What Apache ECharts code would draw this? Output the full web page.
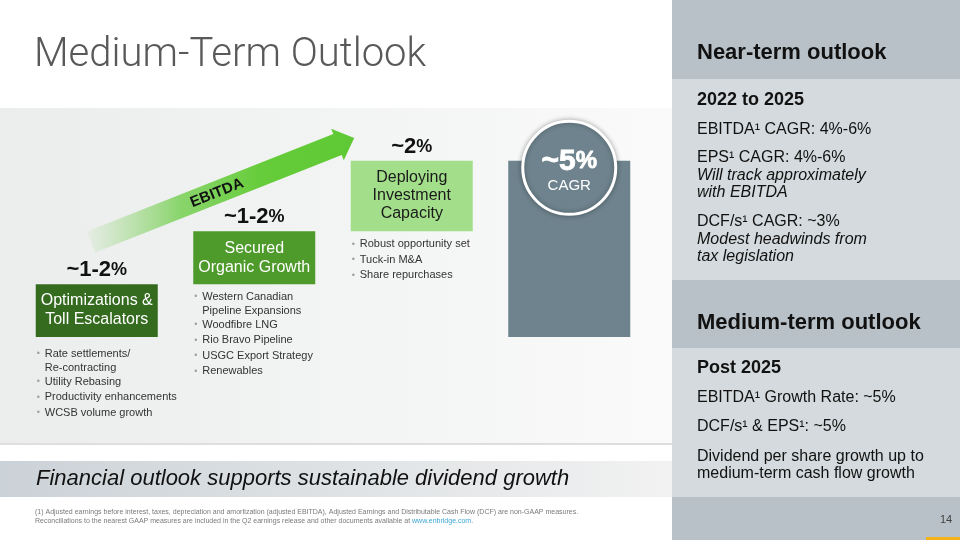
<!DOCTYPE html>
<html><head><meta charset="utf-8">
<script src="https://cdn.jsdelivr.net/npm/echarts@6/dist/echarts.min.js"></script>
<style>html,body{margin:0;padding:0;background:#fff}#c{width:960px;height:540px}</style>
</head><body><div id="c"></div>
<script>
// ---- data ----
const categories = ['Optimizations &\nToll Escalators', 'Secured\nOrganic Growth', 'Deploying\nInvestment\nCapacity', 'Medium-term'];
const stepValues = [1.5, 1.5, 2, 5];
const isTotal = [false, false, false, true];
const stepLabels = ['~1-2%', '~1-2%', '~2%', ''];
const totalBadge = ['~5%', 'CAGR'];
const bullets = [
  ['Rate settlements/\nRe-contracting', 'Utility Rebasing', 'Productivity enhancements', 'WCSB volume growth'],
  ['Western Canadian\nPipeline Expansions', 'Woodfibre LNG', 'Rio Bravo Pipeline', 'USGC Export Strategy', 'Renewables'],
  ['Robust opportunity set', 'Tuck-in M&A', 'Share repurchases'],
  []
];
const titleText = 'Medium-Term Outlook';
const bannerText = 'Financial outlook supports sustainable dividend growth';
const footnoteLines = [
  '(1) Adjusted earnings before interest, taxes, depreciation and amortization (adjusted EBITDA), Adjusted Earnings and Distributable Cash Flow (DCF) are non-GAAP measures.',
  'Reconciliations to the nearest GAAP measures are included in the Q2 earnings release and other documents available at '
];
const footnoteLink = 'www.enbridge.com';
const nearTermHeader = 'Near-term outlook';
const nearTermPeriod = '2022 to 2025';
const nearTermLines = ['EBITDA¹ CAGR: 4%-6%', 'EPS¹ CAGR: 4%-6%', '*Will track approximately', '*with EBITDA', 'DCF/s¹ CAGR: ~3%', '*Modest headwinds from', '*tax legislation'];
const mediumTermHeader = 'Medium-term outlook';
const mediumTermPeriod = 'Post 2025';
const mediumTermLines = ['EBITDA¹ Growth Rate: ~5%', 'DCF/s¹ & EPS¹: ~5%', 'Dividend per share growth up to', 'medium-term cash flow growth'];
const pageNumber = '14';

// ---- derived ----
const base = []; let run = 0;
stepValues.forEach((v, i) => { if (isTotal[i]) base.push(0); else { base.push(run); run += v; } });

const barColors = ['#346b1f', '#4e9a2b', '#a3df8b', '#6e838d'];
const labelColors = ['#ffffff', '#ffffff', '#1a1a1a', '#ffffff'];
const sans = "'Liberation Sans',Arial,sans-serif";

function bulletText(list) {
  return list.map(item => {
    const parts = item.split('\n');
    return '{d|•}{t|' + parts[0] + '}' + parts.slice(1).map(p => '\n{c|' + p + '}').join('');
  }).join('\n');
}

const chart = echarts.init(document.getElementById('c'), null, {renderer: 'canvas'});

// arrow geometry
const arrowPts = [[86.8, 231.5], [333.3, 134.0], [331.2, 128.7], [354.2, 137.9], [343.8, 160.3], [341.7, 155.0], [95.2, 252.5]];

function rightLines(lines, startY, gaps) {
  const out = []; let y = startY;
  lines.forEach((l, i) => {
    if (i > 0) y += gaps[i - 1];
    const it = l.startsWith('*');
    out.push({type: 'text', x: 697, y: y, silent: true, style: {text: it ? l.slice(1) : l, fontSize: 16, fontFamily: sans, fontStyle: it ? 'italic' : 'normal', fill: '#111', verticalAlign: 'middle', align: 'left'}});
  });
  return out;
}

const graphics = [
  {type: 'rect', shape: {x: 0, y: 108, width: 672, height: 336}, silent: true, z: -10,
    style: {fill: {type: 'linear', x: 0, y: 0, x2: 1, y2: 0, colorStops: [{offset: 0, color: '#ebeded'}, {offset: 1, color: '#fafafa'}]}}},
  {type: 'rect', shape: {x: 0, y: 443, width: 672, height: 2}, silent: true, z: -9, style: {fill: '#dedede'}},
  {type: 'rect', shape: {x: 0, y: 461, width: 672, height: 36}, silent: true, z: -10,
    style: {fill: {type: 'linear', x: 0, y: 0, x2: 1, y2: 0, colorStops: [{offset: 0, color: '#cbd2d7'}, {offset: 1, color: '#f2f2f2'}]}}},
  {type: 'text', x: 36, y: 479, silent: true, style: {text: bannerText, fontSize: 22, fontStyle: 'italic', fontFamily: sans, fill: '#111', verticalAlign: 'middle'}},
  {type: 'text', x: 35, y: 512, silent: true, style: {text: footnoteLines[0], fontSize: 7, fontFamily: sans, fill: '#7a7a7a', verticalAlign: 'middle'}},
  {type: 'text', x: 35, y: 521, silent: true, style: {text: footnoteLines[1] + '{l|' + footnoteLink + '}.', fontSize: 7, fontFamily: sans, fill: '#7a7a7a', verticalAlign: 'middle', rich: {l: {fontSize: 7, fontFamily: sans, fill: '#3aa6d8'}}}},
  {type: 'text', x: 34, y: 56, silent: true, style: {text: titleText, fontSize: 40, fontWeight: 300, fontFamily: "Roboto,'Liberation Sans',sans-serif", fill: '#595959', verticalAlign: 'middle'}},
  // right panel
  {type: 'rect', shape: {x: 672, y: 0, width: 288, height: 79}, silent: true, style: {fill: '#b7c1c7'}},
  {type: 'rect', shape: {x: 672, y: 79, width: 288, height: 201}, silent: true, style: {fill: '#d4dadd'}},
  {type: 'rect', shape: {x: 672, y: 280, width: 288, height: 68}, silent: true, style: {fill: '#b7c1c7'}},
  {type: 'rect', shape: {x: 672, y: 348, width: 288, height: 149}, silent: true, style: {fill: '#d4dadd'}},
  {type: 'rect', shape: {x: 672, y: 497, width: 288, height: 43}, silent: true, style: {fill: '#b7c1c7'}},
  {type: 'rect', shape: {x: 926, y: 537, width: 34, height: 3}, silent: true, style: {fill: '#f5b317'}},
  {type: 'text', x: 946, y: 520, silent: true, style: {text: pageNumber, fontSize: 11, fontFamily: sans, fill: '#444', align: 'center', verticalAlign: 'middle'}},
  {type: 'text', x: 697, y: 53, silent: true, style: {text: nearTermHeader, fontSize: 22, fontWeight: 'bold', fontFamily: sans, fill: '#111', verticalAlign: 'middle'}},
  {type: 'text', x: 697, y: 100, silent: true, style: {text: nearTermPeriod, fontSize: 18, fontWeight: 'bold', fontFamily: sans, fill: '#111', verticalAlign: 'middle'}},
  ...rightLines(nearTermLines, 130, [28, 18, 17, 29, 18, 17]),
  {type: 'text', x: 697, y: 323, silent: true, style: {text: mediumTermHeader, fontSize: 22, fontWeight: 'bold', fontFamily: sans, fill: '#111', verticalAlign: 'middle'}},
  {type: 'text', x: 697, y: 368, silent: true, style: {text: mediumTermPeriod, fontSize: 18, fontWeight: 'bold', fontFamily: sans, fill: '#111', verticalAlign: 'middle'}},
  ...rightLines(mediumTermLines, 398, [29, 30, 17]),
  // EBITDA arrow
  {type: 'polygon', shape: {points: arrowPts}, silent: true,
    style: {fill: {type: 'linear', x: 0, y: 0, x2: 1, y2: 0, colorStops: [{offset: 0, color: 'rgba(140,210,110,0.08)'}, {offset: 0.35, color: 'rgba(120,208,85,0.85)'}, {offset: 0.65, color: '#66cc3a'}, {offset: 1, color: '#5ec934'}]}}},
  {type: 'text', x: 217, y: 193, rotation: 0.377, silent: true, style: {text: 'EBITDA', fontSize: 15, fontWeight: 'bold', fontFamily: sans, fill: '#111', align: 'center', verticalAlign: 'middle'}}
];

const option = {
  animation: false,
  backgroundColor: '#ffffff',
  grid: {left: 18, right: 312, top: 108, bottom: 203, containLabel: false},
  xAxis: {type: 'category', data: categories, show: false},
  yAxis: {type: 'value', min: 0, max: 6.5, show: false},
  graphic: graphics,
  series: [
    {
      name: 'base', type: 'bar', stack: 'w', barWidth: 122, silent: true,
      itemStyle: {color: 'rgba(0,0,0,0)'},
      data: base.map((v, i) => ({
        value: v,
        label: {show: bullets[i].length > 0, position: 'insideTopLeft', distance: 1,
          padding: [i === 0 ? 8 : 4, 0, 0, 0],
          formatter: () => bulletText(bullets[i]),
          rich: {
            d: {color: '#a0a0a0', fontSize: 9, width: 8, lineHeight: 15.5, fontFamily: sans},
            t: {color: '#333', fontSize: 11, lineHeight: 15.5, fontFamily: sans},
            c: {color: '#333', fontSize: 11, lineHeight: 12.5, fontFamily: sans, padding: [0, 0, 0, 8]}
          }}
      }))
    },
    {
      name: 'step', type: 'bar', stack: 'w', barWidth: 122, silent: true,
      data: stepValues.map((v, i) => ({
        value: v,
        itemStyle: {color: barColors[i]},
        label: {show: !isTotal[i], position: 'inside', formatter: categories[i], color: labelColors[i],
          fontSize: 16, lineHeight: i === 2 ? 18 : 19, fontFamily: sans}
      }))
    },
    {
      name: 'cap', type: 'bar', stack: 'w', barWidth: 122, silent: true,
      itemStyle: {color: 'rgba(0,0,0,0)'},
      data: stepValues.map((v, i) => ({
        value: 0,
        label: {show: stepLabels[i] !== '', position: 'top', distance: 3,
          formatter: () => '{a|' + stepLabels[i].replace('%', '') + '}{b|%}',
          rich: {a: {fontSize: 22, fontWeight: 'bold', color: '#111', fontFamily: sans},
                 b: {fontSize: 18, fontWeight: 'bold', color: '#111', fontFamily: sans}}}
      }))
    },
    {
      name: 'badge', type: 'scatter', silent: true, z: 5,
      symbol: 'circle', symbolSize: 93, symbolOffset: [0, 7],
      itemStyle: {color: '#6e838d', opacity: 1, borderColor: '#ffffff', borderWidth: 3, shadowBlur: 5, shadowColor: 'rgba(0,0,0,0.3)'},
      data: stepValues.map((v, i) => isTotal[i] ? [i, v] : null).filter(d => d),
      label: {show: true, position: 'inside', offset: [0, 3], fontWeight: 'bold',
        formatter: () => '{a|' + totalBadge[0].replace('%', '') + '}{b|%}\n{c|' + totalBadge[1] + '}',
        rich: {a: {fontSize: 30, fontWeight: 'bold', color: '#fff', fontFamily: sans, lineHeight: 30, textBorderColor: '#fff', textBorderWidth: 0.8},
               b: {fontSize: 24, fontWeight: 'bold', color: '#fff', fontFamily: sans, lineHeight: 30, textBorderColor: '#fff', textBorderWidth: 0.8},
               c: {fontSize: 15, fontWeight: 'normal', color: '#fff', fontFamily: sans, lineHeight: 18, align: 'center'}}}
    }
  ]
};
chart.setOption(option);
</script></body></html>
